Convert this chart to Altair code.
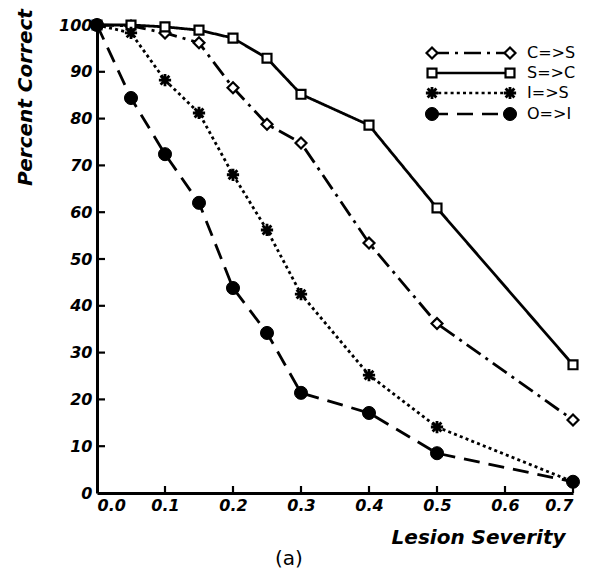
import altair as alt
import pandas as pd

# Lesion severity levels tested, and percent correct for each pathway
severity = [0.0, 0.05, 0.1, 0.15, 0.2, 0.25, 0.3, 0.4, 0.5, 0.7]
c_to_s = [100, 99.8, 98.3, 96.2, 86.6, 78.8, 74.8, 53.4, 36.2, 15.6]
s_to_c = [100, 100, 99.6, 98.9, 97.2, 92.9, 85.2, 78.6, 60.9, 27.4]
i_to_s = [100, 98.3, 88.2, 81.2, 68.0, 56.2, 42.5, 25.2, 14.1, 2.4]
o_to_i = [100, 84.4, 72.4, 62.0, 43.8, 34.2, 21.4, 17.1, 8.5, 2.4]

series_names = ["C=>S", "S=>C", "I=>S", "O=>I"]
series_values = [c_to_s, s_to_c, i_to_s, o_to_i]

x_ticks = [0.0, 0.1, 0.2, 0.3, 0.4, 0.5, 0.6, 0.7]
y_ticks = [0, 10, 20, 30, 40, 50, 60, 70, 80, 90, 100]

W, H = 476, 468
FONT = "DejaVu Sans"
ASTERISK = "M-1,0L1,0M0,-1L0,1M-0.72,-0.72L0.72,0.72M-0.72,0.72L0.72,-0.72"

# line dash + marker style per series
styles = {
    "C=>S": dict(dash=[17, 6, 3, 6], shape="diamond", fill="white", size=120, sw=2.2),
    "S=>C": dict(dash=[1, 0], shape="square", fill="white", size=80, sw=2.2),
    "I=>S": dict(dash=[3, 3.2], shape=ASTERISK, fill=None, size=150, sw=2.8),
    "O=>I": dict(dash=[16, 9], shape="circle", fill="black", size=170, sw=1),
}

xs = alt.Scale(domain=[0, 0.7], nice=False, zero=False)
ys = alt.Scale(domain=[0, 100], nice=False)

x_enc = alt.X(
    "severity:Q", scale=xs,
    axis=alt.Axis(
        values=x_ticks, format=".1f", title="Lesion Severity",
        titleX=468, titleY=50, titleAlign="right", titleBaseline="alphabetic",
        titleFontSize=20, titleFont=FONT, titleFontWeight="bold", titleFontStyle="italic",
        labelPadding=4,
    ),
)
y_enc = alt.Y(
    "pct:Q", scale=ys,
    axis=alt.Axis(
        values=y_ticks, title="Percent Correct",
        titleX=-72, titleY=72, titleAngle=270, titleAlign="center", titleBaseline="middle",
        titleFontSize=20, titleFont=FONT, titleFontWeight="bold", titleFontStyle="italic",
        labelPadding=5,
    ),
)


def point_kw(st):
    kw = dict(shape=st["shape"], size=st["size"], stroke="black", strokeWidth=st["sw"], opacity=1)
    if st["fill"] is None:
        kw["filled"] = False
    else:
        kw["filled"] = True
        kw["fill"] = st["fill"]
    return kw


layers = []
for name, vals in zip(series_names, series_values):
    st = styles[name]
    df = pd.DataFrame({"severity": severity, "pct": vals, "series": name})
    layers.append(
        alt.Chart(df).mark_line(stroke="black", strokeWidth=2.8, strokeDash=st["dash"]).encode(x=x_enc, y=y_enc)
    )

for name, vals in zip(series_names, series_values):
    st = styles[name]
    df = pd.DataFrame({"severity": severity, "pct": vals, "series": name})
    layers.append(alt.Chart(df).mark_point(**point_kw(st)).encode(x=x_enc, y=y_enc))

# inward tick marks
ytick_df = pd.DataFrame({"pct": y_ticks[1:-1]})
layers.append(
    alt.Chart(ytick_df).mark_rule(stroke="black", strokeWidth=2.2).encode(
        y=alt.Y("pct:Q", scale=ys), x=alt.value(0), x2=alt.value(8)
    )
)
xtick_df = pd.DataFrame({"severity": x_ticks[1:]})
layers.append(
    alt.Chart(xtick_df).mark_rule(stroke="black", strokeWidth=2.2).encode(
        x=alt.X("severity:Q", scale=xs), y=alt.value(H), y2=alt.value(H - 7)
    )
)

# legend: sample line with a marker on each end, then the label
legend_x0, legend_x1, legend_tx = 335, 413, 430
legend_rows = [28, 48, 68, 89]
for name, row_y in zip(series_names, legend_rows):
    st = styles[name]
    ldf = pd.DataFrame({"series": [name]})
    lb = alt.Chart(ldf)
    layers.append(
        lb.mark_rule(stroke="black", strokeWidth=2.6, strokeDash=st["dash"]).encode(
            x=alt.value(legend_x0), x2=alt.value(legend_x1), y=alt.value(row_y)
        )
    )
    for px in (legend_x0, legend_x1):
        layers.append(lb.mark_point(**point_kw(st)).encode(x=alt.value(px), y=alt.value(row_y)))
    layers.append(
        lb.mark_text(align="left", baseline="middle", font=FONT, fontSize=16, color="black").encode(
            text="series:N", x=alt.value(legend_tx), y=alt.value(row_y)
        )
    )

# panel caption
cap_df = pd.DataFrame({"t": ["(a)"]})
layers.append(
    alt.Chart(cap_df).mark_text(font=FONT, fontSize=20, color="black", baseline="middle").encode(
        text="t:N", x=alt.value(192), y=alt.value(534)
    )
)

chart = (
    alt.layer(*layers)
    .properties(
        width=W, height=H,
        autosize=alt.AutoSizeParams(type="none"),
        padding={"left": 97, "top": 25, "right": 17, "bottom": 76},
        background="white",
    )
    .configure_view(strokeWidth=0)
    .configure_axis(
        grid=False, ticks=False,
        domainColor="black", domainWidth=3,
        labelFont=FONT, labelFontWeight="bold", labelFontStyle="italic",
        labelFontSize=16, labelColor="black", titleColor="black",
    )
)

chart.save("out.html", embed_options={"renderer": "svg", "actions": False})
